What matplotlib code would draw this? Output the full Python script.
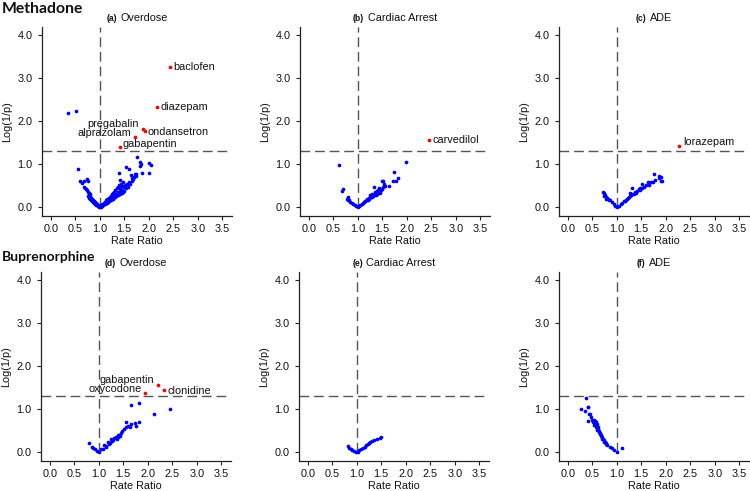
import matplotlib
matplotlib.use("Agg")
import matplotlib.pyplot as plt
from matplotlib.offsetbox import TextArea, HPacker, AnnotationBbox

plt.rcParams['font.family'] = ['Liberation Sans', 'DejaVu Sans']

# ---------------- data ----------------
threshold = 1.301  # -log10(0.05)
x_ticks = [0.0, 0.5, 1.0, 1.5, 2.0, 2.5, 3.0, 3.5]
y_ticks = [0.0, 1.0, 2.0, 3.0, 4.0]

# (a) Methadone - Overdose
a_x = [
    0.36, 0.52, 0.55, 0.60, 0.64, 0.68, 0.74, 0.76, 0.67, 0.70,
    0.72, 0.74, 0.75, 0.77, 0.78, 0.79, 0.80, 0.81, 0.82, 0.83,
    0.84, 0.85, 0.86, 0.87, 0.88, 0.89, 0.90, 0.91, 0.92, 0.93,
    0.94, 0.95, 0.96, 0.97, 0.98, 0.99, 1.00, 0.80, 0.82, 0.84,
    0.86, 0.88, 0.90, 0.92, 0.78, 0.76, 1.02, 1.04, 1.06, 1.08,
    1.10, 1.12, 1.14, 1.16, 1.18, 1.20, 1.22, 1.24, 1.26, 1.28,
    1.30, 1.32, 1.34, 1.36, 1.38, 1.40, 1.42, 1.44, 1.46, 1.48,
    1.50, 1.05, 1.08, 1.10, 1.12, 1.15, 1.18, 1.20, 1.22, 1.25,
    1.28, 1.30, 1.32, 1.35, 1.38, 1.40, 1.42, 1.44, 1.46, 1.48,
    1.50, 1.52, 1.54, 1.56, 1.58, 1.60, 1.62, 1.65, 1.68, 1.70,
    1.73, 1.28, 1.33, 1.37, 1.41, 1.45, 1.24, 1.39, 1.42, 1.54,
    1.59, 1.63, 1.66, 1.71, 1.73, 1.76, 1.82, 1.82, 1.84, 1.86,
    2.00, 2.05, 2.00]
a_y = [
    2.18, 2.24, 0.88, 0.62, 0.56, 0.62, 0.65, 0.62, 0.48, 0.46,
    0.42, 0.40, 0.35, 0.33, 0.28, 0.30, 0.24, 0.26, 0.20, 0.22,
    0.18, 0.20, 0.15, 0.17, 0.12, 0.14, 0.10, 0.12, 0.08, 0.09,
    0.06, 0.07, 0.05, 0.04, 0.03, 0.02, 0.00, 0.19, 0.16, 0.14,
    0.12, 0.10, 0.08, 0.06, 0.22, 0.26, 0.02, 0.04, 0.05, 0.07,
    0.08, 0.10, 0.11, 0.13, 0.14, 0.16, 0.17, 0.19, 0.20, 0.22,
    0.23, 0.25, 0.26, 0.28, 0.29, 0.31, 0.32, 0.33, 0.34, 0.36,
    0.37, 0.07, 0.11, 0.13, 0.16, 0.19, 0.22, 0.25, 0.27, 0.30,
    0.33, 0.36, 0.40, 0.44, 0.48, 0.52, 0.46, 0.55, 0.50, 0.58,
    0.47, 0.52, 0.44, 0.55, 0.48, 0.58, 0.54, 0.62, 0.66, 0.70,
    0.72, 0.28, 0.31, 0.35, 0.38, 0.40, 0.25, 0.80, 0.63, 0.93,
    0.90, 0.75, 0.67, 0.77, 0.78, 1.16, 1.06, 0.96, 1.00, 0.79,
    1.03, 0.98, 0.80]
a_sig_names = ['baclofen', 'diazepam', 'pregabalin', 'ondansetron', 'alprazolam', 'gabapentin']
a_sig_x = [2.43, 2.16, 1.88, 1.92, 1.71, 1.41]
a_sig_y = [3.25, 2.33, 1.82, 1.78, 1.62, 1.40]

# (b) Methadone - Cardiac Arrest
b_x = [
    0.62, 0.69, 0.68, 0.81, 0.77, 0.80, 0.82, 0.85, 0.88, 0.91,
    0.94, 0.97, 1.00, 1.03, 1.05, 1.08, 1.10, 1.12, 1.15, 1.18,
    1.20, 1.22, 1.25, 1.27, 1.29, 1.32, 1.35, 1.37, 1.39, 1.42,
    1.44, 1.46, 1.49, 1.51, 1.52, 1.33, 1.56, 1.63, 1.72, 1.73,
    1.78, 1.83, 1.99, 1.25, 1.29, 1.35, 1.39, 1.42, 1.44, 1.40,
    1.30, 1.34, 1.48, 1.54, 1.50, 1.22, 1.18, 1.15, 1.38, 1.45]
b_y = [
    0.98, 0.42, 0.38, 0.25, 0.19, 0.18, 0.17, 0.13, 0.10, 0.08,
    0.05, 0.03, 0.00, 0.03, 0.05, 0.08, 0.10, 0.12, 0.14, 0.17,
    0.18, 0.19, 0.23, 0.24, 0.25, 0.27, 0.31, 0.31, 0.32, 0.34,
    0.36, 0.38, 0.42, 0.47, 0.62, 0.47, 0.49, 0.50, 0.62, 0.82,
    0.62, 0.67, 1.06, 0.28, 0.30, 0.35, 0.38, 0.40, 0.44, 0.36,
    0.26, 0.29, 0.40, 0.54, 0.60, 0.21, 0.19, 0.15, 0.28, 0.33]
b_sig_names = ['carvedilol']
b_sig_x = [2.46]
b_sig_y = [1.56]

# (c) Methadone - ADE
c_x = [
    0.72, 0.74, 0.73, 0.77, 0.80, 0.84, 0.87, 0.91, 0.94, 0.97,
    1.00, 1.04, 1.08, 1.11, 1.14, 1.18, 1.21, 1.25, 1.28, 1.32,
    1.28, 1.35, 1.38, 1.42, 1.45, 1.48, 1.52, 1.55, 1.59, 1.66,
    1.73, 1.79, 1.86, 1.90, 1.77, 1.86, 1.91, 1.93, 1.32, 1.52,
    1.63, 1.69, 0.75, 0.78, 0.82, 1.16, 1.23, 1.30, 1.40, 1.47]
c_y = [
    0.36, 0.33, 0.26, 0.24, 0.22, 0.18, 0.16, 0.12, 0.08, 0.04,
    0.01, 0.04, 0.08, 0.11, 0.14, 0.17, 0.19, 0.23, 0.26, 0.30,
    0.33, 0.31, 0.35, 0.38, 0.42, 0.40, 0.46, 0.47, 0.51, 0.53,
    0.58, 0.63, 0.68, 0.60, 0.77, 0.72, 0.71, 0.62, 0.44, 0.55,
    0.58, 0.59, 0.28, 0.20, 0.19, 0.15, 0.21, 0.28, 0.34, 0.44]
c_sig_names = ['lorazepam']
c_sig_x = [2.28]
c_sig_y = [1.43]

# (d) Buprenorphine - Overdose
d_x = [
    0.81, 0.86, 0.89, 0.93, 0.97, 1.00, 1.05, 1.11, 1.18, 1.25,
    1.32, 1.39, 1.46, 1.52, 1.56, 1.63, 1.66, 1.73, 1.75, 1.83,
    1.66, 1.83, 2.13, 2.45, 1.08, 1.14, 1.21, 1.28, 1.35, 1.42,
    1.36, 1.40, 1.44, 1.38, 1.30, 1.48, 1.55, 1.60, 1.15, 1.23]
d_y = [
    0.22, 0.12, 0.11, 0.07, 0.04, 0.00, 0.07, 0.16, 0.23, 0.30,
    0.33, 0.41, 0.45, 0.55, 0.70, 0.59, 0.65, 0.67, 0.61, 0.71,
    1.09, 1.14, 0.90, 1.01, 0.08, 0.13, 0.20, 0.26, 0.36, 0.40,
    0.33, 0.36, 0.38, 0.30, 0.28, 0.50, 0.58, 0.60, 0.14, 0.22]
d_sig_names = ['gabapentin', 'clonidine', 'oxycodone']
d_sig_x = [2.20, 2.34, 1.95]
d_sig_y = [1.57, 1.45, 1.37]

# (e) Buprenorphine - Cardiac Arrest
e_x = [0.82, 0.85, 0.88, 0.91, 0.94, 0.99, 1.05, 1.12, 1.19, 1.25,
       1.28, 1.36, 1.42, 1.49, 1.47, 1.09, 1.16, 1.22, 1.32, 1.02]
e_y = [0.14, 0.11, 0.08, 0.06, 0.04, 0.00, 0.05, 0.11, 0.16, 0.22,
       0.23, 0.29, 0.31, 0.35, 0.33, 0.08, 0.13, 0.19, 0.26, 0.02]

# (f) Buprenorphine - ADE
f_x = [
    0.38, 0.26, 0.42, 0.41, 0.36, 0.44, 0.45, 0.41, 0.475, 0.50,
    0.53, 0.52, 0.56, 0.54, 0.58, 0.60, 0.63, 0.65, 0.68, 0.70,
    0.73, 0.77, 0.80, 0.86, 0.91, 0.94, 1.01, 1.11, 0.55, 0.57,
    0.59, 0.61, 0.62, 0.64, 0.66, 0.67, 0.69, 0.71, 0.74, 0.76,
    0.78, 0.57, 0.60]
f_y = [
    1.25, 1.00, 1.04, 1.06, 0.95, 0.90, 0.88, 0.72, 0.82, 0.76,
    0.74, 0.70, 0.68, 0.63, 0.59, 0.53, 0.47, 0.43, 0.37, 0.32,
    0.28, 0.22, 0.16, 0.12, 0.09, 0.05, 0.02, 0.09, 0.72, 0.65,
    0.62, 0.55, 0.58, 0.50, 0.45, 0.40, 0.35, 0.30, 0.25, 0.24,
    0.20, 0.70, 0.66]

panel_tags = ['(a)', '(b)', '(c)', '(d)', '(e)', '(f)']
panel_titles = ['Overdose', 'Cardiac Arrest', 'ADE', 'Overdose', 'Cardiac Arrest', 'ADE']
row_titles = ['Methadone', 'Buprenorphine']

# label offsets (pixels) and alignment, per significant drug
label_style = {
    'baclofen': (3, 0, 'left'), 'diazepam': (4, 0, 'left'),
    'pregabalin': (-4, 5, 'right'), 'ondansetron': (3, -1.5, 'left'),
    'alprazolam': (-3.5, 4, 'right'), 'gabapentin': (3, 3, 'left'),
    'carvedilol': (3, 0, 'left'), 'lorazepam': (3.5, 4, 'left'),
    'clonidine': (3, -1.5, 'left'), 'oxycodone': (-3.5, 4, 'right'),
}
label_style_d = {'gabapentin': (-3.5, 5, 'right')}

# ---------------- figure ----------------
W, H = 750, 491
fig = plt.figure(figsize=(W / 100, H / 100), dpi=100)

col_left = [[42, 300, 559], [41, 299, 559]]
row_top = [27, 272]
AW, AH = 190, 189

blue_sets = [(a_x, a_y), (b_x, b_y), (c_x, c_y), (d_x, d_y), (e_x, e_y), (f_x, f_y)]
red_sets = [(a_sig_names, a_sig_x, a_sig_y), (b_sig_names, b_sig_x, b_sig_y),
            (c_sig_names, c_sig_x, c_sig_y), (d_sig_names, d_sig_x, d_sig_y),
            ([], [], []), ([], [], [])]

dash_col = '#555555'
spine_col = '#222222'
fs = 7.8
px2pt = 0.72

for i in range(6):
    r, c = divmod(i, 3)
    l = col_left[r][c]
    t = row_top[r]
    ax = fig.add_axes([l / W, 1 - (t + AH) / H, AW / W, AH / H])
    ax.set_xlim(-0.18, 3.7)
    ax.set_ylim(-0.2, 4.18)
    for s in ['top', 'right']:
        ax.spines[s].set_visible(False)
    for s in ['left', 'bottom']:
        ax.spines[s].set_color(spine_col)
        ax.spines[s].set_linewidth(0.9)
    ax.set_xticks(x_ticks)
    ax.set_xticklabels([f'{v:.1f}' for v in x_ticks])
    ax.set_yticks(y_ticks)
    ax.set_yticklabels([f'{v:.1f}' for v in y_ticks])
    ax.tick_params(axis='both', direction='out', length=3, width=0.8,
                   color=spine_col, labelsize=fs, labelcolor='#111111')
    ax.tick_params(axis='x', pad=3)
    ax.tick_params(axis='y', pad=4)
    ax.set_xlabel('Rate Ratio', fontsize=fs, labelpad=1.5, color='#111111')
    ax.set_ylabel('Log(1/p)', fontsize=fs, labelpad=3.5, color='#111111')

    ls = (0, (7, 3.5))
    ax.axhline(threshold, color=dash_col, lw=1.0, ls=ls, zorder=1)
    ax.plot([1.0, 1.0], [0.0, 4.18], color=dash_col, lw=1.0, ls=ls, zorder=1)

    bx, by = blue_sets[i]
    ax.scatter(bx, by, s=7, c='#0000FF', linewidths=0, zorder=3)
    names, rx, ry = red_sets[i]
    if names:
        ax.scatter(rx, ry, s=7, c='#FF0000', linewidths=0, zorder=3)
        for n, xv, yv in zip(names, rx, ry):
            dx, dy, ha = label_style[n]
            if i == 3 and n in label_style_d:
                dx, dy, ha = label_style_d[n]
            ax.annotate(n, xy=(xv, yv), xytext=(dx * px2pt, dy * px2pt),
                        textcoords='offset points', ha=ha, va='center',
                        fontsize=fs, color='#111111')

    # panel title: bold small tag + regular title
    tag = TextArea(panel_tags[i], textprops=dict(fontsize=6.2, weight='bold', color='#111111'))
    ttl = TextArea(panel_titles[i], textprops=dict(fontsize=fs, color='#111111'))
    pack = HPacker(children=[tag, ttl], sep=2.5, pad=0, align='baseline')
    ab = AnnotationBbox(pack, (0.5, 1.047), xycoords='axes fraction', frameon=False,
                        box_alignment=(0.5, 0.5), pad=0, annotation_clip=False)
    ax.add_artist(ab)

fig.text(2 / W, 1 - 9 / H, row_titles[0], fontfamily=['Lato', 'DejaVu Sans'],
         fontweight='bold', fontsize=11.3, ha='left', va='center', color='#111111')
fig.text(2 / W, 1 - 257 / H, row_titles[1], fontfamily=['Lato', 'DejaVu Sans'],
         fontweight='bold', fontsize=10.0, ha='left', va='center', color='#111111')

fig.savefig('out.png', dpi=100)
